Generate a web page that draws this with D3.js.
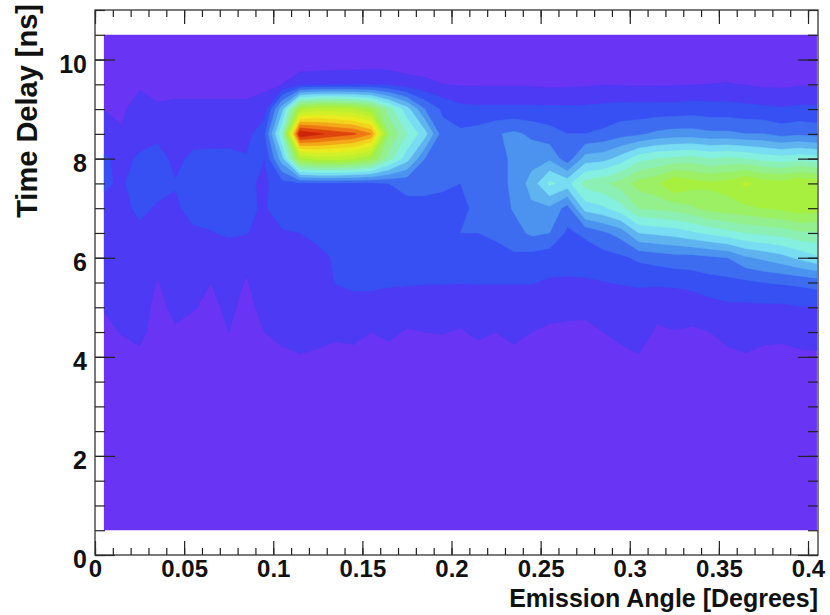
<!DOCTYPE html>
<html>
<head>
<meta charset="utf-8">
<script src="https://cdn.jsdelivr.net/npm/d3@7"></script>
<style>
  html, body { margin: 0; padding: 0; background: #fff; }
  svg { display: block; font-family: "Liberation Sans", Arial, sans-serif; font-weight: bold; }
</style>
</head>
<body>
<svg id="chart" width="830" height="615"></svg>
<script>
// bin centres of the 2D histogram
const angles = [0.005, 0.015, 0.025, 0.035, 0.045, 0.055, 0.065, 0.075, 0.085, 0.095,
                0.105, 0.115, 0.125, 0.135, 0.145, 0.155, 0.165, 0.175, 0.185, 0.195,
                0.205, 0.215, 0.225, 0.235, 0.245, 0.255, 0.265, 0.275, 0.285, 0.295,
                0.305, 0.315, 0.325, 0.335, 0.345, 0.355, 0.365, 0.375, 0.385, 0.395, 0.405];
const delays = [10.5, 10, 9.5, 9, 8.5, 8, 7.5, 7, 6.5, 6, 5.5, 5, 4.5, 4, 3.5, 3, 2.5, 2, 1.5, 1, 0.5];

// one column per angle, values follow the delays list (top to bottom)
const counts = [
  [2,2.5,3,4.9,8,10.5,10.5,9,8,7,6,5.2,4,3,2.5,2,1.5,1.5,1,1,1],
  [2,2.5,3,4,5.5,9,9.5,8.5,8,7.5,6.5,6,5.2,3.5,2.5,2,1.5,1.5,1,1,1],
  [2,2.5,4.2,7.5,8.5,10.5,12,11,9,8,7,6.5,6,4.2,2.5,2,1.5,1.5,1,1,1],
  [2,2.5,3.5,5.6,9,11.5,11.5,9.5,8,6,4.8,4,3.5,3,2.5,2,1.5,1.5,1,1,1],
  [2,2.5,3.5,6,8.5,9,10.2,9.5,8.5,7,6.5,5.8,4.6,3.2,2.5,2,1.5,1.5,1,1,1],
  [2,2.5,3.5,6,8.5,10.8,11.5,11,9.5,8,6,5.2,4,3,2.5,2,1.5,1.5,1,1,1],
  [2,2.5,3.5,6,8.5,11,12,11.5,9.8,6.5,5,4.3,3.8,3,2.5,2,1.5,1.5,1,1,1],
  [2,2.5,3.5,6,8.5,11,12,11.5,10.5,8,6.5,5.6,5,3.5,2.5,2,1.5,1.5,1,1,1],
  [2,2.5,3.5,6,8,10.5,11,10.8,10.2,6,4.7,4.2,3.6,3,2.5,2,1.5,1.5,1,1,1],
  [2,2.5,4,7,14,10,9,9.5,8.5,8,7,5.8,5,3.5,2.5,2,1.5,1.5,1,1,1],
  [2,2,5,28,40,28,13,12.5,9.5,8,7,6.5,6,4.3,2.5,2,1.5,1.5,1,1,1],
  [2,2,8,58,100,58,14,13,10,8,7,6,6.5,4.8,2.5,2,1.5,1.5,1,1,1],
  [2,2,8.5,62,96,62,14,13,10.5,9.5,8,7,6,4.5,2.5,2,1.5,1.5,1,1,1],
  [2,2,9,62,93,62,14,12,10.5,10.2,10.2,7,5.5,4.2,2.5,2,1.5,1.5,1,1,1],
  [2,2,9,60,91,60,14,13,12,12,11,8,5.8,4.2,2.5,2,1.5,1.5,1,1,1],
  [2,2,9.5,55,85,55,14,13,12.5,12,11,8,5,4,2.5,2,1.5,1.5,1,1,1],
  [2,2,9,42,50,42,15,13,12.5,12,10.6,7.5,5.5,4.2,2.5,2,1.5,1.5,1,1,1],
  [2,2,7,32,40,32,16,14,13,12,10.6,6.2,4.8,3.8,2.5,2,1.5,1.5,1,1,1],
  [2,2.5,6,20,32,20,16,14,13,12,10.2,7.5,5,4,2.5,2,1.5,1.5,1,1,1],
  [2,2.5,5,14,17,18,16,13,13,12,10.2,7.5,5.1,4,2.5,2,1.5,1.5,1,1,1],
  [2,2.5,4.5,11.5,16,17,15,14,15,12,10.2,6,4.8,3.8,2.5,2,1.5,1.5,1,1,1],
  [2,2.5,4.5,11,17,17,16,16,15,12,10.2,7.5,5.5,4,2.5,2,1.5,1.5,1,1,1],
  [2,2.5,4.5,11,19.5,18,18,17,16,13,10.2,7.5,5,4,2.5,2,1.5,1.5,1,1,1],
  [2,2.5,4.5,11,21,21,21,20.5,18,14,10.2,7.5,5.8,4.2,2.5,2,1.5,1.5,1,1,1],
  [2,2.5,4.5,11,19,23,27,24,21,13,10.2,7.5,5,4,2.5,2,1.5,1.5,1,1,1],
  [2,2.5,4,11,17,24,36,24,20,12,9.5,5.8,4.6,3.5,2.5,2,1.5,1.5,1,1,1],
  [2,2.5,4.2,11,15,17,33,18,14,11.5,9.5,5.6,4.5,3.5,2.5,2,1.5,1.5,1,1,1],
  [2,2.5,4.4,11,15,27,42,32,16,12,9.5,5.6,4.4,3.5,2.5,2,1.5,1.5,1,1,1],
  [2,2.5,4.8,11.5,16,28,44,34,19,13,9.8,6.5,5,3.9,2.5,2,1.5,1.5,1,1,1],
  [2,2.5,4.6,12,18,32,47,38,22,14,10.3,7,5.8,4.2,2.5,2,1.5,1.5,1,1,1],
  [2,2.5,4.4,12,19,38,52,45,30,16,10.5,8,6.5,4.8,2.5,2,1.5,1.5,1,1,1],
  [2,2.5,4.5,12,21,40,54,46,31,17,10.8,5.8,4.6,3.6,2.5,2,1.5,1.5,1,1,1],
  [2,2.5,4.5,12,22,41,60,47,32,18,11,6.2,4.9,3.8,2.5,2,1.5,1.5,1,1,1],
  [2,2.5,4.8,12.5,22,42,57,49,34,18,12,6,4.7,3.7,2.5,2,1.5,1.5,1,1,1],
  [2,2.5,5,12,21,40,56,52,36,19,13,8,5,4,2.5,2,1.5,1.5,1,1,1],
  [2,2.5,5.2,12,21,41,57,53,38,20,13.5,9,6,4.3,2.5,2,1.5,1.5,1,1,1],
  [2,2.5,4.8,11.5,20,40,61,54,40,24,14,9,6.5,4.7,2.5,2,1.5,1.5,1,1,1],
  [2,2.5,4.2,11,20,38,58,55,41,26,15,9,5.8,4.3,2.5,2,1.5,1.5,1,1,1],
  [2,2.5,4,10.5,18,37,57,56,42,28,15.5,9,5.6,4.3,2.5,2,1.5,1.5,1,1,1],
  [2,2.5,4.5,11,19,38,60,58,44,31,16,9.7,6,4.5,2.5,2,1.5,1.5,1,1,1],
  [2,2.5,4.5,11,18,37,58,57,44,34,17,9.8,6.2,4.6,2.5,2,1.5,1.5,1,1,1]
];

const zMin = 0, zMax = 100, nLevels = 20;

const xMajor = [0, 0.05, 0.1, 0.15, 0.2, 0.25, 0.3, 0.35, 0.4];
const xMajorLabels = ["0", "0.05", "0.1", "0.15", "0.2", "0.25", "0.3", "0.35", "0.4"];
const yMajor = [0, 2, 4, 6, 8, 10];

// ROOT "pretty" palette, one colour per contour level
const palette = ["#6a34f4", "#4c3af4", "#3650f4", "#3d6cf0", "#4c92ef",
                 "#5fb4f0", "#78dcf2", "#86f0e0", "#8cf0b4", "#94f08c",
                 "#9cf064", "#a8f040", "#bcf030", "#d0f028", "#e8ec20",
                 "#f2d41c", "#f2a818", "#ee7812", "#e0440e", "#cc2408"];

const svg = d3.select("#chart");
const frameL = 95, frameR = 818, frameT = 10, frameB = 555;

const x = d3.scaleLinear().domain([0, 0.4056]).range([frameL, frameR]);
const y = d3.scaleLinear().domain([0, 11]).range([frameB, frameT]);

// --- filled contours ---
const nx = angles.length, ny = delays.length;
const values = [];
for (let j = 0; j < ny; j++)
  for (let i = 0; i < nx; i++) values.push(counts[i][j]);

const levels = d3.range(nLevels).map(k => zMin + k * (zMax - zMin) / nLevels);
const bands = d3.contours().size([nx, ny]).thresholds(levels)(values);

const dxStep = angles[1] - angles[0], dyStep = delays[1] - delays[0];
const gridToPx = d3.geoTransform({
  point(gx, gy) {
    this.stream.point(x(angles[0] + (gx - 0.5) * dxStep), y(delays[0] + (gy - 0.5) * dyStep));
  }
});
const path = d3.geoPath(gridToPx);

svg.append("clipPath").attr("id", "plotclip")
  .append("rect")
    .attr("x", x(angles[0]))
    .attr("y", y(delays[0]))
    .attr("width", x(angles[nx - 1]) - x(angles[0]))
    .attr("height", y(delays[ny - 1]) - y(delays[0]));

svg.append("g").attr("clip-path", "url(#plotclip)")
  .selectAll("path")
  .data(bands)
  .join("path")
    .attr("d", path)
    .attr("fill", (d, i) => palette[i])
    .attr("stroke", (d, i) => palette[i])
    .attr("stroke-width", 0.6);

// --- axes, ROOT style ticks pointing inwards ---
const xMinor = d3.range(0, 41).map(k => k / 100);
const yMinor = d3.range(0, 23).map(k => k / 2);

function styleAxis(g) {
  g.select(".domain").remove();
  g.selectAll(".tick line").attr("stroke", "#222").attr("stroke-width", 1.2);
}

svg.append("g").attr("transform", `translate(0,${frameB})`)
  .call(d3.axisBottom(x).tickValues(xMinor).tickSize(-7).tickFormat(""))
  .call(styleAxis);
svg.append("g").attr("transform", `translate(0,${frameB})`)
  .call(d3.axisBottom(x).tickValues(xMajor).tickSize(-14).tickPadding(0)
        .tickFormat((d, i) => xMajorLabels[i]))
  .call(styleAxis)
  .call(g => g.selectAll("text")
    .attr("y", 22).attr("dy", null)
    .attr("font-size", 24).attr("fill", "#111"));

svg.append("g").attr("transform", `translate(0,${frameT})`)
  .call(d3.axisTop(x).tickValues(xMinor).tickSize(-7).tickFormat(""))
  .call(styleAxis);
svg.append("g").attr("transform", `translate(0,${frameT})`)
  .call(d3.axisTop(x).tickValues(xMajor).tickSize(-14).tickFormat(""))
  .call(styleAxis);

svg.append("g").attr("transform", `translate(${frameL},0)`)
  .call(d3.axisLeft(y).tickValues(yMinor).tickSize(-10).tickFormat(""))
  .call(styleAxis);
svg.append("g").attr("transform", `translate(${frameL},0)`)
  .call(d3.axisLeft(y).tickValues(yMajor).tickSize(-20).tickPadding(8).tickFormat(d3.format("d")))
  .call(styleAxis)
  .call(g => g.selectAll("text")
    .attr("x", -8).attr("dy", "0.5em")
    .attr("font-size", 25).attr("fill", "#111"));

svg.append("g").attr("transform", `translate(${frameR},0)`)
  .call(d3.axisRight(y).tickValues(yMinor).tickSize(-10).tickFormat(""))
  .call(styleAxis);
svg.append("g").attr("transform", `translate(${frameR},0)`)
  .call(d3.axisRight(y).tickValues(yMajor).tickSize(-20).tickFormat(""))
  .call(styleAxis);

// frame
svg.append("rect")
  .attr("x", frameL).attr("y", frameT)
  .attr("width", frameR - frameL).attr("height", frameB - frameT)
  .attr("fill", "none").attr("stroke", "#333").attr("stroke-width", 1.3);

// axis titles
svg.append("text")
  .attr("x", frameR).attr("y", 607)
  .attr("text-anchor", "end")
  .attr("font-size", 25).attr("fill", "#111")
  .text("Emission Angle [Degrees]");

svg.append("text")
  .attr("transform", "translate(37,4) rotate(-90)")
  .attr("text-anchor", "end")
  .attr("font-size", 29).attr("fill", "#111")
  .text("Time Delay [ns]");
</script>
</body>
</html>
